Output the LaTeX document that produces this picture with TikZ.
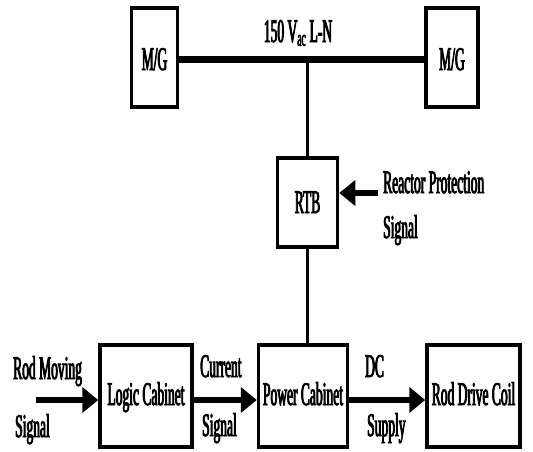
\documentclass[tikz,border=0pt]{standalone}
\usepackage{fontspec}
\setmainfont{Liberation Serif}[FakeStretch=0.41, FakeBold=2.5]
\usetikzlibrary{arrows.meta}
\begin{document}
\begin{tikzpicture}[x=1pt,y=-1pt,
  txt/.style={font=\fontsize{33}{35}\selectfont},
  box/.style={draw, line width=3.5pt, rectangle, inner sep=0pt, txt},
  lbl/.style={inner sep=0pt, txt, anchor=base west},
  arr/.style={line width=6pt, -{Triangle[length=16pt,width=25pt]}},
  wire/.style={line width=3pt}]
\useasboundingbox (0,0) rectangle (533,451);
% top row
\node[box, minimum width=46pt, minimum height=99pt] (mgL) at (154.5,57.5) {};
\node[inner sep=0pt, txt, anchor=base] (mgLt) at (mgL.center |- 0,70) {M/G};
\node[box, minimum width=52pt, minimum height=99pt] (mgR) at (452,57.5) {};
\node[inner sep=0pt, txt, anchor=base] (mgRt) at (mgR.center |- 0,70) {M/G};
\draw[line width=7pt] (mgL.east |- 0,59) coordinate (busL) -- (mgR.west |- 0,59) coordinate (busR);
\node[inner sep=0pt, txt, anchor=base] (vlab) at (298,42) {150 V\textsubscript{ac} L-N};
\coordinate (j) at (307.5,59);
% RTB
\node[box, minimum width=60pt, minimum height=89pt] (rtb) at (307.5,202.5) {};
\node[inner sep=0pt, txt, anchor=base] (rtbt) at (rtb.center |- 0,213) {RTB};
\draw[wire] (j) -- (rtb.north);
\coordinate (rps) at (378,193);
\draw[arr] (rps) -- (rps -| rtb.east);
\node[lbl] (rp1) at (383,193) {Reactor Protection};
\node[lbl] (rp2) at (383,238) {Signal};
% bottom row
\node[box, minimum width=92pt, minimum height=102pt] (logic) at (146,396) {};
\node[box, minimum width=89pt, minimum height=102pt] (power) at (303,396) {};
\node[box, minimum width=93pt, minimum height=102pt] (coil) at (473.5,396) {};
\node[inner sep=0pt, txt, anchor=base] (logict) at (logic.center |- 0,405) {Logic Cabinet};
\node[inner sep=0pt, txt, anchor=base] (powert) at (power.center |- 0,405) {Power Cabinet};
\node[inner sep=0pt, txt, anchor=base] (coilt) at (coil.center |- 0,405) {Rod Drive Coil};
\draw[wire] (rtb.south) -- (rtb.south |- power.north);
\coordinate (in) at (36,400);
\draw[arr] (in) -- (in -| logic.west);
\draw[arr] (logic.east |- in) -- (power.west |- in);
\draw[arr] (power.east |- in) -- (coil.west |- in);
\node[lbl] (rm1) at (13,379) {Rod Moving};
\node[lbl] (rm2) at (15,437) {Signal};
\node[lbl] (cs1) at (200,377) {Current};
\node[lbl] (cs2) at (202,436) {Signal};
\node[lbl] (dc1) at (365,377) {DC};
\node[lbl] (dc2) at (367,436) {Supply};
\end{tikzpicture}
\end{document}
